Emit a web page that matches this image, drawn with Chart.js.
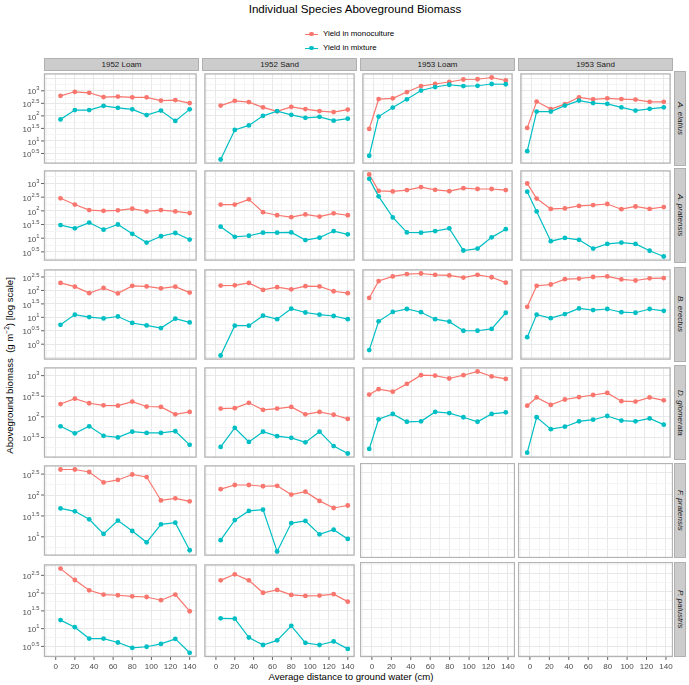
<!DOCTYPE html>
<html>
<head>
<meta charset="utf-8">
<script src="https://cdn.jsdelivr.net/npm/chart.js@4.4.0/dist/chart.umd.min.js"></script>
<style>
  body { margin: 0; background: #fff; font-family: "Liberation Sans", Arial, sans-serif; }
  #page { position: relative; width: 689px; height: 685px; overflow: hidden; }
  .txt { position: absolute; white-space: nowrap; line-height: 1; }
  .strip { position: absolute; box-sizing: border-box; background: #CCCCCC; border: 1px solid #B0B0B0;
           color: #1A1A1A; font-size: 8px; display: flex; align-items: center; justify-content: center; }
  .strip.side { writing-mode: vertical-rl; font-style: italic; }
  canvas { position: absolute; }
</style>
</head>
<body>
<div id="page">
  <div class="txt" style="left:155px;width:400px;top:3px;text-align:center;font-size:11.6px;color:#000;">Individual Species Aboveground Biomass</div>
  <div id="legend"></div>
  <div class="txt" style="left:151px;width:400px;top:672px;text-align:center;font-size:9.6px;color:#000;">Average distance to ground water (cm)</div>
  <div class="txt" style="left:-291px;width:600px;top:360px;text-align:center;font-size:9.6px;color:#000;transform:rotate(-90deg);">Aboveground biomass&nbsp; (g m<sup style="font-size:6.5px">−2</sup>) [log scale]</div>
</div>
<script>
// facets
const conditions = ['1952 Loam', '1952 Sand', '1953 Loam', '1953 Sand'];
const speciesNames = ['A. elatius', 'A. pratensis', 'B. erectus', 'D. glomerata', 'F. pratensis', 'P. palustris'];

// average distance to ground water (cm)
const distance1952 = [5, 20, 35, 50, 65, 80, 95, 110, 125, 140];
const distance1953 = [-5, 5, 20, 35, 50, 65, 80, 95, 110, 125, 140];

const xBreaks = [0, 20, 40, 60, 80, 100, 120, 140];
const yBreaks = [0, 0.5, 1, 1.5, 2, 2.5, 3]; // log10 values, labelled 10^x

// log10 of aboveground biomass (g m-2), per facet: 1952 Loam, 1952 Sand, 1953 Loam, 1953 Sand
const elatiusMono = [
  [2.80, 2.96, 2.92, 2.75, 2.77, 2.74, 2.74, 2.61, 2.63, 2.51],
  [2.41, 2.60, 2.55, 2.34, 2.18, 2.36, 2.27, 2.19, 2.15, 2.25],
  [1.48, 2.67, 2.70, 2.95, 3.19, 3.27, 3.35, 3.45, 3.46, 3.53, 3.41],
  [1.52, 2.57, 2.27, 2.47, 2.74, 2.66, 2.70, 2.67, 2.65, 2.56, 2.56]
];
const elatiusMix = [
  [1.86, 2.23, 2.23, 2.40, 2.32, 2.26, 2.03, 2.21, 1.80, 2.26],
  [0.26, 1.44, 1.62, 2.00, 2.19, 2.04, 1.92, 1.96, 1.81, 1.89],
  [0.41, 1.97, 2.33, 2.66, 3.01, 3.15, 3.24, 3.19, 3.20, 3.27, 3.26],
  [0.59, 2.17, 2.17, 2.41, 2.61, 2.51, 2.48, 2.34, 2.21, 2.28, 2.34]
];
const pratensisMono = [
  [2.46, 2.23, 2.03, 2.00, 2.02, 2.08, 1.98, 2.03, 1.98, 1.92],
  [2.23, 2.23, 2.42, 1.95, 1.84, 1.77, 1.87, 1.79, 1.91, 1.84],
  [3.33, 2.73, 2.71, 2.76, 2.87, 2.77, 2.72, 2.83, 2.80, 2.80, 2.76],
  [3.00, 2.45, 2.07, 2.09, 2.18, 2.21, 2.25, 2.06, 2.16, 2.07, 2.14]
];
const pratensisMix = [
  [1.48, 1.36, 1.57, 1.31, 1.50, 1.16, 0.84, 1.07, 1.19, 0.95],
  [1.42, 1.05, 1.09, 1.20, 1.20, 1.21, 0.93, 1.02, 1.26, 1.14],
  [3.17, 2.53, 1.76, 1.21, 1.20, 1.26, 1.36, 0.55, 0.62, 1.03, 1.33],
  [2.70, 1.98, 0.89, 1.01, 0.94, 0.62, 0.79, 0.84, 0.79, 0.54, 0.33]
];
const erectusMono = [
  [2.28, 2.14, 1.90, 2.09, 1.89, 2.17, 2.15, 2.08, 2.14, 1.92],
  [2.18, 2.19, 2.28, 2.02, 2.12, 2.04, 2.16, 2.15, 1.97, 1.90],
  [1.72, 2.35, 2.52, 2.61, 2.63, 2.58, 2.56, 2.48, 2.58, 2.49, 2.29],
  [1.39, 2.17, 2.22, 2.42, 2.44, 2.50, 2.52, 2.41, 2.37, 2.45, 2.46]
];
const erectusMix = [
  [0.72, 1.10, 1.01, 0.96, 1.03, 0.79, 0.70, 0.60, 0.95, 0.81],
  [-0.42, 0.69, 0.69, 1.06, 0.93, 1.32, 1.18, 1.10, 1.05, 0.93],
  [-0.22, 0.85, 1.20, 1.31, 1.19, 0.93, 0.84, 0.50, 0.50, 0.57, 1.17],
  [0.26, 1.10, 0.97, 1.12, 1.33, 1.27, 1.31, 1.19, 1.17, 1.31, 1.24]
];
const glomerataMono = [
  [2.31, 2.44, 2.33, 2.28, 2.27, 2.37, 2.25, 2.24, 2.06, 2.12],
  [2.20, 2.21, 2.34, 2.17, 2.20, 2.24, 2.06, 2.12, 2.05, 1.95],
  [2.54, 2.67, 2.61, 2.80, 3.01, 3.00, 2.93, 3.01, 3.10, 2.98, 2.92],
  [2.27, 2.47, 2.29, 2.42, 2.48, 2.53, 2.58, 2.38, 2.37, 2.47, 2.40]
];
const glomerataMix = [
  [1.77, 1.60, 1.77, 1.54, 1.50, 1.64, 1.61, 1.61, 1.65, 1.32],
  [1.27, 1.73, 1.39, 1.64, 1.53, 1.49, 1.38, 1.64, 1.29, 1.11],
  [1.22, 1.94, 2.07, 1.88, 1.89, 2.12, 2.09, 1.99, 1.88, 2.07, 2.11],
  [1.13, 1.99, 1.70, 1.76, 1.89, 1.93, 2.02, 1.91, 1.89, 1.96, 1.81]
];
const festucaMono = [
  [2.61, 2.61, 2.55, 2.30, 2.36, 2.49, 2.43, 1.87, 1.92, 1.85],
  [2.14, 2.24, 2.24, 2.21, 2.22, 2.01, 2.08, 1.86, 1.69, 1.75],
  [],
  []
];
const festucaMix = [
  [1.68, 1.61, 1.42, 1.07, 1.39, 1.14, 0.87, 1.30, 1.34, 0.68],
  [0.92, 1.40, 1.62, 1.65, 0.65, 1.33, 1.38, 1.06, 1.17, 0.95],
  [],
  []
];
const palustrisMono = [
  [2.69, 2.37, 2.08, 1.96, 1.94, 1.91, 1.89, 1.80, 1.96, 1.49],
  [2.36, 2.53, 2.36, 2.01, 2.09, 1.95, 1.92, 1.93, 1.97, 1.76],
  [],
  []
];
const palustrisMix = [
  [1.24, 1.04, 0.72, 0.72, 0.61, 0.46, 0.49, 0.57, 0.71, 0.32],
  [1.29, 1.28, 0.75, 0.54, 0.67, 1.08, 0.60, 0.54, 0.64, 0.43],
  [],
  []
];

const monoRows = [elatiusMono, pratensisMono, erectusMono, glomerataMono, festucaMono, palustrisMono];
const mixRows = [elatiusMix, pratensisMix, erectusMix, glomerataMix, festucaMix, palustrisMix];

const RED = '#F8766D', TEAL = '#00BFC4';
const FONT = '"Liberation Sans", Arial, sans-serif';
const colLeft = [44, 202, 360, 518];
const rowTop = [71, 168, 267, 365, 463, 562];
const PW = 155, PH = 95, AXW = 44, AXH = 16;

const page = document.getElementById('page');

// legend
const legend = document.getElementById('legend');
[['Yield in monoculture', RED, 34], ['Yield in mixture', TEAL, 48]].forEach(function (it) {
  legend.insertAdjacentHTML('beforeend',
    '<div style="position:absolute;left:305px;top:' + (it[2] - 0.5) + 'px;width:13px;height:1.2px;background:' + it[1] + '"></div>' +
    '<div style="position:absolute;left:309px;top:' + (it[2] - 2.4) + 'px;width:4.8px;height:4.8px;border-radius:50%;background:' + it[1] + '"></div>' +
    '<div class="txt" style="left:323px;top:' + (it[2] - 4) + 'px;font-size:7.9px;color:#000;">' + it[0] + '</div>');
});

// strips
conditions.forEach(function (name, c) {
  page.insertAdjacentHTML('beforeend',
    '<div class="strip" style="left:' + colLeft[c] + 'px;top:58px;width:' + PW + 'px;height:13px;">' + name + '</div>');
});
speciesNames.forEach(function (name, r) {
  page.insertAdjacentHTML('beforeend',
    '<div class="strip side" style="left:674px;top:' + rowTop[r] + 'px;width:12px;height:' + PH + 'px;">' + name + '</div>');
});

function rowLimits(r) {
  const vals = monoRows[r].flat().concat(mixRows[r].flat());
  const lo = Math.min.apply(null, vals), hi = Math.max.apply(null, vals);
  const pad = (hi - lo) * 0.05;
  return [lo - pad, hi + pad];
}

// major + minor grid positions like ggplot
function yGrid(lo, hi) {
  const b = yBreaks.filter(v => v >= lo && v <= hi);
  if (lo < b[0]) b.unshift(b[0] - 0.5);
  if (hi > b[b.length - 1]) b.push(b[b.length - 1] + 0.5);
  const out = [];
  for (let v = b[0]; v <= b[b.length - 1] + 1e-9; v += 0.25) {
    if (v >= lo && v <= hi) out.push(+v.toFixed(2));
  }
  return out;
}
const xGrid = [-10, 0, 10, 20, 30, 40, 50, 60, 70, 80, 90, 100, 110, 120, 130, 140];

const panelDeco = {
  id: 'panelDeco',
  afterDraw(chart, args, opts) {
    const ctx = chart.ctx, a = chart.chartArea;
    ctx.save();
    ctx.strokeStyle = '#B3B3B3';
    ctx.lineWidth = 1.3;
    ctx.strokeRect(a.left + 0.5, a.top + 0.5, a.right - a.left - 1, a.bottom - a.top - 1);
    ctx.fillStyle = '#4D4D4D';
    ctx.strokeStyle = '#555555';
    ctx.lineWidth = 0.9;
    if (opts.yLabels) {
      const ys = chart.scales.y;
      yBreaks.forEach(function (e) {
        if (e < ys.min || e > ys.max) return;
        const py = ys.getPixelForValue(e);
        ctx.beginPath(); ctx.moveTo(a.left - 3, py); ctx.lineTo(a.left, py); ctx.stroke();
        const sup = Number.isInteger(e) ? String(e) : e.toFixed(1);
        ctx.font = '5.8px ' + FONT;
        const ws = ctx.measureText(sup).width;
        ctx.font = '8px ' + FONT;
        const wb = ctx.measureText('10').width;
        const right = a.left - 4.5;
        ctx.textAlign = 'left';
        ctx.textBaseline = 'alphabetic';
        ctx.fillText('10', right - ws - wb, py + 3.7);
        ctx.font = '5.8px ' + FONT;
        ctx.fillText(sup, right - ws, py - 0.4);
      });
    }
    if (opts.xLabels) {
      const xs = chart.scales.x;
      ctx.font = '8px ' + FONT;
      ctx.textAlign = 'center';
      ctx.textBaseline = 'middle';
      xBreaks.forEach(function (v) {
        const px = xs.getPixelForValue(v);
        ctx.beginPath(); ctx.moveTo(px, a.bottom); ctx.lineTo(px, a.bottom + 3); ctx.stroke();
        ctx.fillText(String(v), px, a.bottom + 9.5);
      });
    }
    ctx.restore();
  }
};

function series(xs, ys, label, color, order) {
  return {
    label: label,
    data: ys.map((y, i) => ({ x: xs[i], y: y })),
    borderColor: color,
    backgroundColor: color,
    borderWidth: 1.2,
    pointRadius: 2.4,
    pointHoverRadius: 2.4,
    pointBorderWidth: 0,
    order: order,
    clip: false
  };
}

for (let r = 0; r < 6; r++) {
  const lim = rowLimits(r);
  const gridY = yGrid(lim[0], lim[1]);
  for (let c = 0; c < 4; c++) {
    const padL = c === 0 ? AXW : 0, padB = r === 5 ? AXH : 0;
    const cv = document.createElement('canvas');
    cv.width = PW + padL;
    cv.height = PH + padB;
    cv.style.left = (colLeft[c] - padL) + 'px';
    cv.style.top = rowTop[r] + 'px';
    page.appendChild(cv);
    const xs = c < 2 ? distance1952 : distance1953;

    new Chart(cv, {
      type: 'line',
      data: {
        datasets: [
          series(xs, monoRows[r][c], 'Yield in monoculture', RED, 1),
          series(xs, mixRows[r][c], 'Yield in mixture', TEAL, 0)
        ]
      },
      plugins: [panelDeco],
      options: {
        responsive: false,
        animation: false,
        devicePixelRatio: 1,
        events: [],
        layout: { padding: { left: padL, bottom: padB, top: 0, right: 0 } },
        plugins: {
          legend: { display: false },
          tooltip: { enabled: false },
          panelDeco: { yLabels: c === 0, xLabels: r === 5 }
        },
        scales: {
          x: {
            type: 'linear',
            min: -12.25,
            max: 147.25,
            afterBuildTicks: s => { s.ticks = xGrid.map(v => ({ value: v })); },
            ticks: { display: false },
            border: { display: false },
            grid: {
              drawTicks: false,
              color: ctx => (ctx.tick && ctx.tick.value % 20 === 0) ? '#E8E8E8' : '#F3F3F3',
              lineWidth: ctx => (ctx.tick && ctx.tick.value % 20 === 0) ? 1 : 0.8
            }
          },
          y: {
            type: 'linear',
            min: lim[0],
            max: lim[1],
            afterBuildTicks: s => { s.ticks = gridY.map(v => ({ value: v })); },
            ticks: { display: false },
            border: { display: false },
            grid: {
              drawTicks: false,
              color: ctx => (ctx.tick && ctx.tick.value % 0.5 === 0) ? '#E8E8E8' : '#F3F3F3',
              lineWidth: ctx => (ctx.tick && ctx.tick.value % 0.5 === 0) ? 1 : 0.8
            }
          }
        }
      }
    });
  }
}
</script>
</body>
</html>
